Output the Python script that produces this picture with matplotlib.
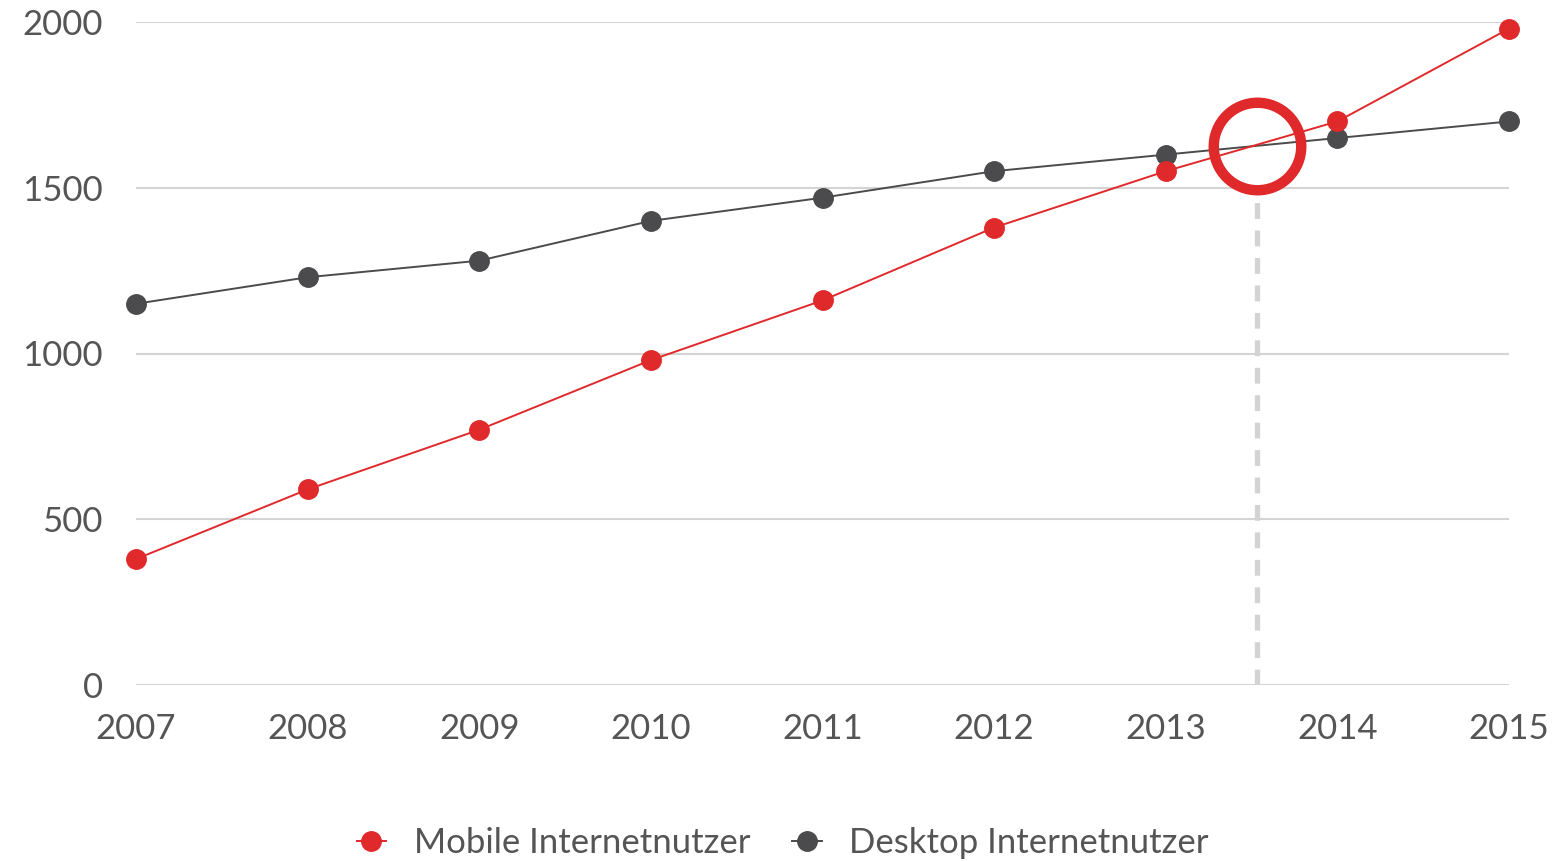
import matplotlib
matplotlib.use("Agg")
from matplotlib import pyplot as plt

years = [2007, 2008, 2009, 2010, 2011, 2012, 2013, 2014, 2015]
mobile = [380, 590, 770, 980, 1160, 1380, 1550, 1700, 1980]
desktop = [1150, 1230, 1280, 1400, 1470, 1550, 1600, 1650, 1700]
yticks = [0, 500, 1000, 1500, 2000]

red = "#e0292b"
dark = "#4b4b4d"
txt = "#555555"
plt.rcParams['font.family'] = ['Lato', 'DejaVu Sans']

fig = plt.figure(figsize=(15.56, 8.61), dpi=100)
ax = fig.add_axes([136/1556, 176/861, (1509-136)/1556, 663/861])

ax.plot(years, desktop, color=dark, lw=1.4, marker='o', ms=14, zorder=3,
        clip_on=False, label="Desktop Internetnutzer")
ax.plot(years, mobile, color=red, lw=1.4, marker='o', ms=14, zorder=4,
        clip_on=False, label="Mobile Internetnutzer")

# crossing point between 2013 and 2014
i = 6
dm = mobile[i+1] - mobile[i]
dd = desktop[i+1] - desktop[i]
t = (desktop[i] - mobile[i]) / (dm - dd)
cx = years[i] + t + 0.03
cy = mobile[i] + t * dm
ax.plot([cx], [cy], marker='o', ms=63, mfc='none', mec=red, mew=7.5,
        zorder=5, clip_on=False)
ax.plot([cx, cx], [0, cy - 135], color="#d3d3d3", lw=3.8,
        dashes=(3, 2.2), zorder=1)

ax.set_xlim(2007, 2015)
ax.set_ylim(0, 2000)
ax.set_yticks(yticks)
ax.set_xticks(years)
ax.grid(axis='y', color="#d4d4d4", lw=1.5)
ax.set_axisbelow(True)
for s in ax.spines.values():
    s.set_visible(False)
ax.tick_params(length=0, labelsize=25, labelcolor=txt)
ax.tick_params(axis='x', pad=20)
ax.tick_params(axis='y', pad=24)

h, l = ax.get_legend_handles_labels()
fig.legend(h[::-1], l[::-1], loc='center', bbox_to_anchor=(0.503, 0.021),
           ncol=2, frameon=False, fontsize=25, labelcolor=txt,
           handlelength=0.85, handletextpad=0.8, columnspacing=1.2)

fig.savefig("out.png", dpi=100)
